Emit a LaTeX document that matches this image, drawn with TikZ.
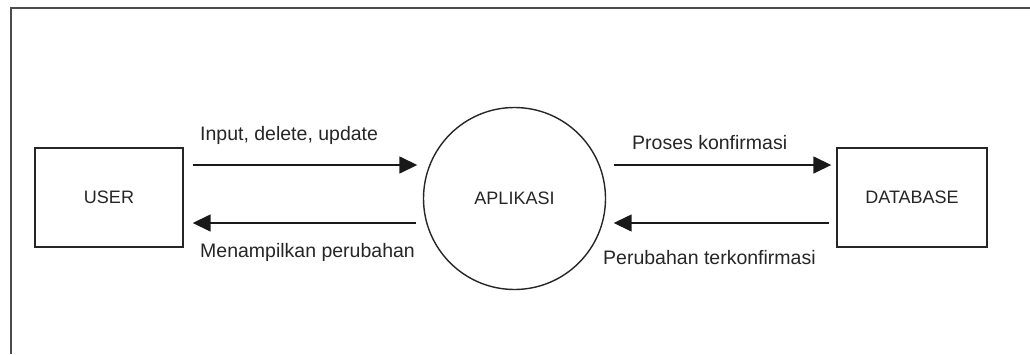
\documentclass[tikz,border=0pt]{standalone}
\usepackage{fontspec}
\setmainfont{Liberation Sans}
\usetikzlibrary{arrows.meta}
\begin{document}
\begin{tikzpicture}[x=1pt,y=-1pt,
  ent/.style={draw=black!85, line width=1.4pt, minimum width=148pt, minimum height=99pt, inner sep=0pt, font=\fontsize{18}{20}\selectfont, text=black!85},
  proc/.style={circle, draw=black!85, line width=1.4pt, minimum size=182pt, inner sep=0pt, font=\fontsize{18}{20}\selectfont, text=black!85},
  flow/.style={draw=black!90, line width=1.5pt, -{Triangle[length=18pt,width=17pt]}},
  lbl/.style={anchor=west, inner sep=0pt, font=\fontsize{19.5}{22}\selectfont, text=black!85}]
\useasboundingbox (0,0) rectangle (1030,354);
\fill[white] (0,0) rectangle (1030,354);
\draw[black!70, line width=2pt] (10.5,354) -- (10.5,7.5) -- (1030,7.5);
\node[ent] (user) at (109,197.5) {USER};
\node[proc] (app) at (514.5,198.5) {APLIKASI};
\node[ent, minimum width=150pt] (db) at (912,197.5) {DATABASE};
\draw[flow, shorten <=9pt, shorten >=5.5pt] (user.east |- 0,165) -- (app.west |- 0,165);
\draw[flow, shorten <=6.5pt, shorten >=9pt] (app.west |- 0,223) -- (user.east |- 0,223);
\draw[flow, shorten <=7.5pt, shorten >=5pt] (app.east |- 0,165) -- (db.west |- 0,165);
\draw[flow, shorten <=7pt, shorten >=7.5pt] (db.west |- 0,223) -- (app.east |- 0,223);
\node[lbl] (l1) at (200,135) {Input, delete, update};
\node[lbl] (l2) at (200,252) {Menampilkan perubahan};
\node[lbl] (l3) at (632,143) {Proses konfirmasi};
\node[lbl] (l4) at (603,258) {Perubahan terkonfirmasi};
\end{tikzpicture}
\end{document}
